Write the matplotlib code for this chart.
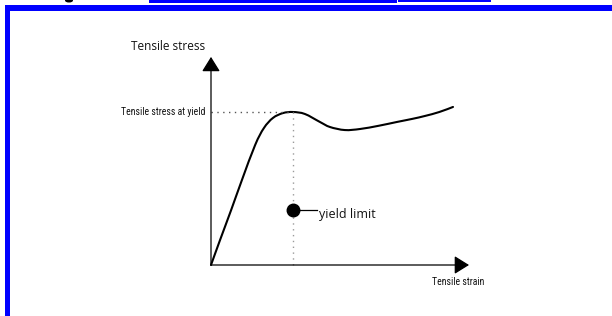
import matplotlib
matplotlib.use("Agg")
import matplotlib.pyplot as plt
from matplotlib.patches import Rectangle, Ellipse, PathPatch
from matplotlib.path import Path
from matplotlib import font_manager
from matplotlib.font_manager import FontProperties

# ---- data (arbitrary units: strain, stress) ----
strain = [0.0, 0.35, 0.78, 1.20, 1.71, 2.05, 2.40, 2.79, 3.18, 3.64, 4.22, 4.61,
          5.19, 5.78, 6.50, 7.21, 7.80, 8.29, 8.85, 9.38]
stress = [0.0, 1.63, 3.59, 5.56, 7.84, 8.95, 9.61, 9.93, 10.0, 9.87, 9.35, 9.02,
          8.82, 8.89, 9.10, 9.35, 9.55, 9.74, 10.00, 10.33]
yield_strain = 3.18
yield_stress = 10.0
marker_stress = 3.59
leader_end = 4.11
x_arrow_end = 10.0
y_arrow_end = 13.6

y_label = "Tensile stress"
x_label = "Tensile strain"
yield_label = "Tensile stress at yield"
marker_label = "yield limit"


def is_regular(f):
    return f.style == "normal" and f.weight in (400, "normal", "regular")


# pick an upright condensed font if one is installed
cond_fp = None
for pref in ["Liberation Sans Narrow", "Roboto Condensed", "Open Sans Condensed",
             "Noto Sans Condensed", "DejaVu Sans Condensed"]:
    for f in font_manager.fontManager.ttflist:
        low = f.fname.lower()
        if f.name == pref and is_regular(f) and "italic" not in low and "oblique" not in low:
            cond_fp = f.fname
            break
    if cond_fp:
        break
if cond_fp is None:
    for f in font_manager.fontManager.ttflist:
        low = f.fname.lower()
        if "condensed" in low and is_regular(f) and "bold" not in low \
                and "italic" not in low and "oblique" not in low:
            cond_fp = f.fname
            break

main_font = "Open Sans"

W, H = 612, 316
fig = plt.figure(figsize=(W / 100, H / 100), dpi=100)
ax = fig.add_axes([0, 0, 1, 1])
sx, sy = 25.8, 15.3
ox, oy = 211, 265
ax.set_xlim(-ox / sx, (W - ox) / sx)
ax.set_ylim((oy - H) / sy, oy / sy)
ax.axis("off")

# axes arrows
arrow_kw = dict(arrowstyle="-|>,head_length=0.45,head_width=0.28", color="black",
                lw=0.9, shrinkA=0, shrinkB=0, mutation_scale=20)
ax.annotate("", xy=(x_arrow_end, 0), xytext=(0, 0), arrowprops=arrow_kw)
ax.annotate("", xy=(0, y_arrow_end), xytext=(0, 0), arrowprops=arrow_kw)

# dotted guides
ax.plot([0, yield_strain], [yield_stress, yield_stress], color="#555555",
        lw=1, linestyle=(0, (1, 3.2)))
ax.plot([yield_strain, yield_strain], [0, yield_stress], color="#9a9a9a",
        lw=1, linestyle=(0, (1, 3.2)))

# smooth curve through the read points (Catmull-Rom -> cubic Bezier)
pts = list(zip(strain, stress))
verts = [pts[0]]
codes = [Path.MOVETO]
n = len(pts)
for i in range(n - 1):
    p0 = pts[i - 1] if i > 0 else pts[i]
    p1 = pts[i]
    p2 = pts[i + 1]
    p3 = pts[i + 2] if i + 2 < n else pts[i + 1]
    c1 = (p1[0] + (p2[0] - p0[0]) / 6, p1[1] + (p2[1] - p0[1]) / 6)
    c2 = (p2[0] - (p3[0] - p1[0]) / 6, p2[1] - (p3[1] - p1[1]) / 6)
    verts += [c1, c2, p2]
    codes += [Path.CURVE4] * 3
ax.add_patch(PathPatch(Path(verts, codes), fill=False, edgecolor="black", lw=1.5,
                       capstyle="round", joinstyle="round"))

# marker and leader
ax.plot([yield_strain, leader_end], [marker_stress, marker_stress], color="black", lw=0.9)
ax.plot([yield_strain], [marker_stress], "o", color="black", markersize=9)

# texts
if cond_fp:
    cond_kw = dict(fontproperties=FontProperties(fname=cond_fp, size=7))
else:
    cond_kw = dict(family="DejaVu Sans", fontstretch="condensed", fontsize=6)
ax.text(-1.65, 14.25, y_label, ha="center", va="center", fontsize=8.5,
        family=main_font, color="#111111")
ax.text(-0.23, yield_stress, yield_label, ha="right", va="center",
        color="#111111", **cond_kw)
ax.text(9.57, -1.11, x_label, ha="center", va="center", color="#111111", **cond_kw)
ax.text(4.19, 3.27, marker_label, ha="left", va="center", fontsize=9,
        family=main_font, color="#111111")

# frame decorations (pixel coords, origin top-left)
def px_rect(x0, y0, x1, y1, color):
    fig.patches.append(Rectangle((x0 / W, 1 - y1 / H), (x1 - x0) / W, (y1 - y0) / H,
                                 transform=fig.transFigure, color=color, lw=0))

blue = "#0000ff"
px_rect(5, 5, 10, 316, blue)
px_rect(5, 5, 612, 11, blue)
px_rect(149, 0, 397, 3, blue)
px_rect(398, 0, 491, 2, blue)
fig.patches.append(Ellipse((69 / W, 1 - 0.5 / H), 8 / W, 4 / H,
                           transform=fig.transFigure, color="black", lw=0))

fig.savefig("out.png", dpi=100)
